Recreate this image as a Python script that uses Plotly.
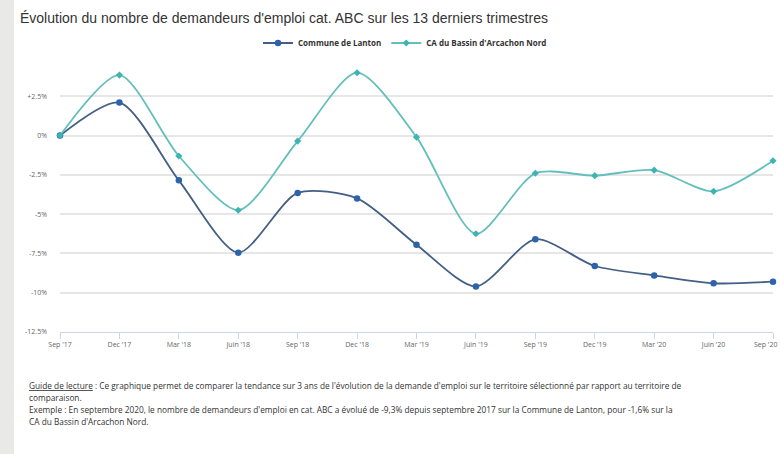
import plotly.graph_objects as go

quarters = ["Sep '17", "Dec '17", "Mar '18", "Juin '18", "Sep '18", "Dec '18", "Mar '19",
            "Juin '19", "Sep '19", "Dec '19", "Mar '20", "Juin '20", "Sep '20"]
lanton = [0.0, 2.1, -2.85, -7.45, -3.65, -4.0, -6.95, -9.6, -6.6, -8.3, -8.9, -9.4, -9.3]
ca_bassin = [0.0, 3.85, -1.3, -4.75, -0.35, 4.0, -0.1, -6.25, -2.4, -2.55, -2.2, -3.55, -1.6]
y_ticks = [5, 2.5, 0, -2.5, -5, -7.5, -10, -12.5]
y_tick_labels = ["", "+2.5%", "0%", "-2.5%", "-5%", "-7.5%", "-10%", "-12.5%"]

W, H = 780, 454
L, R, T, B = 60, 7, 57, 122
pw, ph = W - L - R, H - T - B

def px(x):
    return (x - L) / pw

def py(y):
    return 1 - (y - T) / ph

fig = go.Figure()
fig.add_trace(go.Scatter(
    x=quarters, y=lanton, name="Commune de Lanton", mode="lines+markers",
    line=dict(color="#435f84", width=1.8, shape="spline", smoothing=0.75),
    marker=dict(color="#2c63aa", size=6.5, symbol="circle"), cliponaxis=False))
fig.add_trace(go.Scatter(
    x=quarters, y=ca_bassin, name="CA du Bassin d'Arcachon Nord", mode="lines+markers",
    line=dict(color="#62bfbb", width=1.8, shape="spline", smoothing=0.75),
    marker=dict(color="#3db4b1", size=5.5, symbol="diamond"), cliponaxis=False))

font_txt = "Open Sans, Liberation Sans, Arial, sans-serif"

annotations = [
    dict(text="Évolution du nombre de demandeurs d'emploi cat. ABC sur les 13 derniers trimestres",
         x=px(18), y=py(18), xref="paper", yref="paper", xanchor="left", yanchor="middle",
         showarrow=False, font=dict(family="Liberation Sans, Arial, sans-serif", size=14, color="#333333")),
    # last x label kept inside the chart like the original
    dict(text=quarters[-1], x=px(779), y=0, xref="paper", yref="paper", xanchor="right",
         yanchor="top", yshift=-6, showarrow=False,
         font=dict(family=font_txt, size=7, color="#666666")),
]
footer = [
    "<u>Guide de lecture</u> : Ce graphique permet de comparer la tendance sur 3 ans de l'évolution de la demande d'emploi sur le territoire sélectionné par rapport au territoire de",
    "comparaison.",
    "Exemple : En septembre 2020, le nombre de demandeurs d'emploi en cat. ABC a évolué de -9,3% depuis septembre 2017 sur la Commune de Lanton, pour -1,6% sur la",
    "CA du Bassin d'Arcachon Nord.",
]
for i, line in enumerate(footer):
    annotations.append(dict(text=line, x=px(27), y=py(385 + 12 * i), xref="paper", yref="paper",
                            xanchor="left", yanchor="middle", showarrow=False,
                            font=dict(family=font_txt, size=8.3, color="#333333")))

x_tick_text = quarters[:-1] + [""]

fig.update_layout(
    width=W, height=H,
    margin=dict(l=L, r=R, t=T, b=B, autoexpand=False),
    paper_bgcolor="white", plot_bgcolor="white",
    showlegend=True,
    legend=dict(orientation="h", x=px(405), xanchor="center", y=py(43), yanchor="middle",
                font=dict(family=font_txt, size=8, color="#333333", weight="bold"),
                itemwidth=30, bgcolor="rgba(0,0,0,0)"),
    annotations=annotations,
    shapes=[dict(type="rect", xref="paper", yref="paper", x0=-0.1, x1=px(14), y0=-0.5, y1=1.3,
                 fillcolor="#e9e9e7", line=dict(width=0), layer="above")],
    xaxis=dict(type="category", range=[0, 12], showgrid=False, showline=True, linecolor="#ccd6eb",
               linewidth=1, ticks="outside", ticklen=6, tickcolor="#ccd6eb",
               tickvals=quarters, ticktext=x_tick_text,
               tickfont=dict(family=font_txt, size=7, color="#666666"), zeroline=False),
    yaxis=dict(range=[-12.5, 5], tickvals=y_ticks, ticktext=y_tick_labels, showgrid=True,
               gridcolor="#e6e6e6", gridwidth=1.5, zeroline=False, showline=False,
               ticks="", ticklabelstandoff=12,
               tickfont=dict(family=font_txt, size=7, color="#666666")),
)

fig.write_html("out.html", config={"displayModeBar": False},
               post_script="document.body.style.margin='0';document.body.style.overflow='hidden';")
